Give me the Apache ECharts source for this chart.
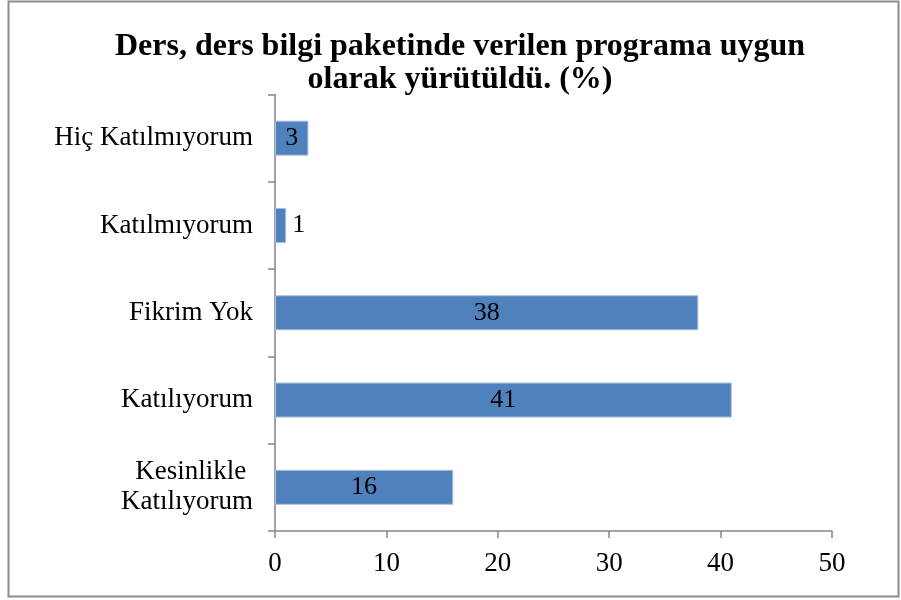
<!DOCTYPE html>
<html>
<head>
<meta charset="utf-8">
<script src="https://cdn.jsdelivr.net/npm/echarts@6/dist/echarts.min.js"></script>
<style>
    html, body { margin: 0; padding: 0; background: #fff; }
    #chart { width: 901px; height: 600px; }
</style>
</head>
<body>
<div id="chart"></div>
<script>
    // categories listed bottom to top, as in the picture
    var categories = ["Kesinlikle \nKatılıyorum", "Katılıyorum", "Fikrim Yok", "Katılmıyorum", "Hiç Katılmıyorum"];
    var values = [16, 41, 38, 1, 3];
    var xTicks = [0, 10, 20, 30, 40, 50];

    var font = "'Liberation Serif', 'Times New Roman', serif";
    var axisColor = "#868686";

    var chart = echarts.init(document.getElementById("chart"));

    var option = {
        animation: false,
        textStyle: { fontFamily: font },
        title: {
            text: "Ders, ders bilgi paketinde verilen programa uygun\nolarak yürütüldü. (%)",
            left: 455,
            textAlign: "center",
            top: 25,
            textStyle: {
                fontFamily: font,
                fontSize: 32,
                fontWeight: "bold",
                color: "#000",
                lineHeight: 33
            }
        },
        graphic: [{
            type: "rect",
            shape: { x: 8.5, y: 1.5, width: 890, height: 595 },
            style: { fill: "none", stroke: "#8c8c8c", lineWidth: 2 },
            silent: true
        }],
        grid: {
            left: 275,
            right: 69,
            top: 94.5,
            bottom: 69
        },
        xAxis: {
            type: "value",
            min: xTicks[0],
            max: xTicks[xTicks.length - 1],
            interval: 10,
            splitLine: { show: false },
            axisLine: { show: true, lineStyle: { color: axisColor, width: 1.5 } },
            axisTick: { show: true, length: 7, lineStyle: { color: axisColor, width: 1.5 } },
            axisLabel: {
                color: "#000",
                fontFamily: font,
                fontSize: 27,
                margin: 19
            }
        },
        yAxis: {
            type: "category",
            data: categories,
            axisLine: { show: true, lineStyle: { color: axisColor, width: 1.5 } },
            axisTick: { show: true, length: 7, lineStyle: { color: axisColor, width: 1.5 } },
            axisLabel: {
                color: "#000",
                fontFamily: font,
                fontSize: 27,
                lineHeight: 30,
                margin: 22
            }
        },
        series: [{
            type: "bar",
            data: values.map(function(v) {
                return {
                    value: v,
                    label: { position: v < 2 ? "right" : "inside" }
                };
            }),
            barWidth: 35,
            itemStyle: {
                color: "#4f81bd",
                borderColor: "#a7c0de",
                borderWidth: 1
            },
            label: {
                show: true,
                color: "#000",
                fontFamily: font,
                fontSize: 26,
                distance: 6
            }
        }]
    };

    chart.setOption(option);
</script>
</body>
</html>
